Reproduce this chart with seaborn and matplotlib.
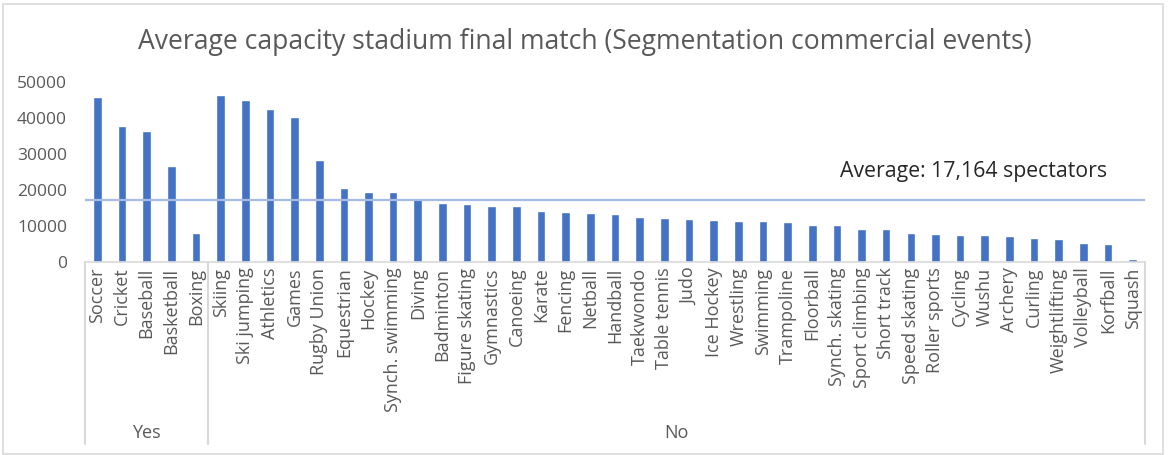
import matplotlib
matplotlib.use("Agg")
import matplotlib.pyplot as plt
from matplotlib.patches import Rectangle
import seaborn as sns
import pandas as pd

# Sports with a commercial-events segment ("Yes") and without ("No")
yes_sports = ["Soccer", "Cricket", "Baseball", "Basketball", "Boxing"]
yes_capacity = [45800, 37800, 36400, 26700, 8000]

no_sports = [
    "Skiing", "Ski jumping", "Athletics", "Games", "Rugby Union", "Equestrian",
    "Hockey", "Synch. swimming", "Diving", "Badminton", "Figure skating",
    "Gymnastics", "Canoeing", "Karate", "Fencing", "Netball", "Handball",
    "Taekwondo", "Table tennis", "Judo", "Ice Hockey", "Wrestling", "Swimming",
    "Trampoline", "Floorball", "Synch. skating", "Sport climbing", "Short track",
    "Speed skating", "Roller sports", "Cycling", "Wushu", "Archery", "Curling",
    "Weightlifting", "Volleyball", "Korfball", "Squash",
]
no_capacity = [
    46400, 45000, 42500, 40200, 28300, 20500,
    19400, 19400, 17400, 16300, 16000,
    15500, 15500, 14100, 13800, 13500, 13200,
    12400, 12100, 11900, 11600, 11300, 11300,
    11000, 10200, 10200, 9100, 9100,
    8000, 7700, 7400, 7400, 7100, 6600,
    6300, 5200, 4900, 900,
]

group_labels = ["Yes", "No"]
average_capacity = 17164
title = "Average capacity stadium final match (Segmentation commercial events)"
y_ticks = [0, 10000, 20000, 30000, 40000, 50000]

df = pd.DataFrame({
    "sport": yes_sports + no_sports,
    "capacity": yes_capacity + no_capacity,
    "segment": [group_labels[0]] * len(yes_sports) + [group_labels[1]] * len(no_sports),
})

sns.set_theme(style="white")
plt.rcParams["font.family"] = ["Open Sans", "DejaVu Sans"]

W, H = 1168, 455
fig = plt.figure(figsize=(W / 100, H / 100), dpi=100)
fig.patch.set_facecolor("white")

ax_left, ax_right, ax_base, ax_top = 85, 1145, 262, 82
ax = fig.add_axes([ax_left / W, (H - ax_base) / H,
                   (ax_right - ax_left) / W, (ax_base - ax_top) / H])

bar_color = "#4472C4"
sns.barplot(data=df, x="sport", y="capacity", color=bar_color, saturation=1,
            width=0.35, ax=ax)

n = len(df)
ax.set_xlim(-0.5, n - 0.5)
ax.set_ylim(0, 50000)
ax.set_yticks(y_ticks)
ax.set_yticklabels([str(v) for v in y_ticks], fontsize=12.5, color="#595959")
ax.set_xticks(range(n))
ax.set_xticklabels(df["sport"], rotation=90, fontsize=13, color="#595959",
                   va="top", ha="center")
ax.tick_params(axis="x", length=0, pad=4)
ax.tick_params(axis="y", length=0, pad=13)
ax.set_xlabel("")
ax.set_ylabel("")
ax.grid(False)
for side in ["top", "left", "right"]:
    ax.spines[side].set_visible(False)
ax.spines["bottom"].set_color("#D9D9D9")
ax.spines["bottom"].set_linewidth(1.2)

# Average reference line and its caption
ax.axhline(average_capacity, color="#A4BCE6", linewidth=1.6, zorder=1)
ax.text(0.712, 0.5, f"Average: {average_capacity:,} spectators",
        transform=ax.transAxes, fontsize=15.3, color="#262626",
        ha="left", va="center")

# Two-level category axis: group dividers and group names
axis_span = ax_base - ax_top
y_low = -(444 - ax_base) / axis_span
n_yes = len(yes_sports)
trans = ax.get_xaxis_transform()
for xpos in [-0.5, n_yes - 0.5, n - 0.5]:
    ax.plot([xpos, xpos], [0, y_low], transform=trans, color="#D9D9D9",
            linewidth=1.5, clip_on=False)
y_group = -(433 - ax_base) / axis_span
ax.text((n_yes - 1) / 2, y_group, group_labels[0], transform=trans,
        ha="center", va="center", fontsize=13, color="#595959")
ax.text((n_yes + n - 1) / 2, y_group, group_labels[1], transform=trans,
        ha="center", va="center", fontsize=13, color="#595959")

fig.text(585 / W, (H - 42) / H, title, ha="center", va="center",
         fontsize=19.1, color="#595959")

# Chart-area frame
fig.patches.append(Rectangle((3 / W, 1 / H), 1160 / W, 450 / H,
                             transform=fig.transFigure, fill=False,
                             edgecolor="#D9D9D9", linewidth=1.2))

fig.savefig("out.png", dpi=100)
